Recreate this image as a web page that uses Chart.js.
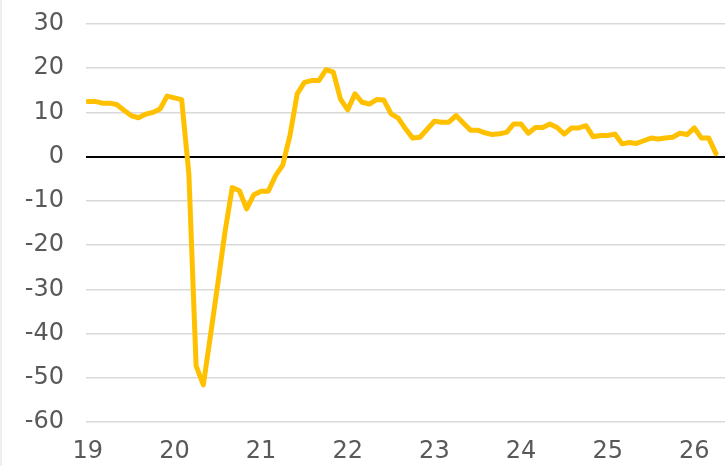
<!DOCTYPE html>
<html>
<head>
<meta charset="utf-8">
<script src="https://cdn.jsdelivr.net/npm/chart.js@4"></script>
<style>
    html, body { margin: 0; padding: 0; background: #fff; overflow: hidden; }
    #wrap { width: 723px; height: 466px; border-left: 2px solid #efefef; }
</style>
</head>
<body>
<div id="wrap"><canvas id="chart" width="723" height="466"></canvas></div>
<script>
// monthly values, Jan 2019 .. Apr 2026
const values = [
    12.5, 12.5, 12.1, 12.1, 11.8, 10.5, 9.3, 8.8, 9.6, 10.0, 10.8, 13.7,
    13.3, 12.9, -4.0, -47.3, -51.6, -40.3, -28.8, -17.0, -7.0, -7.7, -11.8, -8.6,
    -7.8, -7.8, -4.3, -1.9, 4.8, 14.2, 16.8, 17.2, 17.2, 19.7, 19.1, 13.0,
    10.6, 14.2, 12.3, 11.9, 12.9, 12.8, 9.7, 8.7, 6.3, 4.2, 4.4, 6.2,
    8.0, 7.8, 7.8, 9.3, 7.6, 6.0, 6.0, 5.4, 5.0, 5.2, 5.5, 7.4,
    7.4, 5.3, 6.6, 6.6, 7.4, 6.6, 5.1, 6.5, 6.5, 7.0, 4.5, 4.8,
    4.8, 5.1, 2.9, 3.2, 3.0, 3.6, 4.2, 4.0, 4.2, 4.4, 5.3, 5.0,
    6.5, 4.2, 4.2, 0.7
];

// year labels, one per January
const yearLabels = ['19', '20', '21', '22', '23', '24', '25', '26'];

const yTicks = [30, 20, 10, 0, -10, -20, -30, -40, -50, -60];

const labelFont = { family: 'DejaVu Sans', size: 24, lineHeight: 1 };
const labelColor = '#595959';

const points = values.map((v, i) => ({ x: i, y: v }));

new Chart(document.getElementById('chart').getContext('2d'), {
    type: 'line',
    data: {
        datasets: [{
            data: points,
            borderColor: '#FFC000',
            borderWidth: 5,
            borderJoinStyle: 'round',
            borderCapStyle: 'round',
            pointRadius: 0,
            tension: 0,
            fill: false
        }]
    },
    options: {
        responsive: false,
        animation: false,
        layout: {
            padding: { top: 24, right: 0, bottom: 0, left: 0 }
        },
        plugins: {
            legend: { display: false },
            tooltip: { enabled: false }
        },
        scales: {
            x: {
                type: 'linear',
                min: -0.25,
                max: 88.25,
                grid: { display: false, drawTicks: false },
                border: { display: false },
                afterBuildTicks: (axis) => {
                    axis.ticks = yearLabels.map((_, k) => ({ value: k * 12 }));
                },
                afterFit: (axis) => {
                    axis.height = 44;
                    axis.paddingLeft = 0;
                    axis.paddingRight = 0;
                },
                ticks: {
                    font: labelFont,
                    color: labelColor,
                    padding: 18,
                    maxRotation: 0,
                    autoSkip: false,
                    callback: (value) => yearLabels[Math.round(value / 12)]
                }
            },
            y: {
                min: -60,
                max: 30,
                afterFit: (axis) => {
                    axis.width = 84;
                    axis.paddingTop = 0;
                    axis.paddingBottom = 0;
                },
                afterBuildTicks: (axis) => {
                    axis.ticks = yTicks.map(v => ({ value: v }));
                },
                grid: {
                    drawTicks: false,
                    color: (ctx) => ctx.tick && ctx.tick.value === 0 ? '#000000' : '#d9d9d9',
                    lineWidth: (ctx) => ctx.tick && ctx.tick.value === 0 ? 2 : 1.5
                },
                border: { display: false },
                ticks: {
                    font: labelFont,
                    color: labelColor,
                    padding: 22
                }
            }
        }
    }
});
</script>
</body>
</html>
